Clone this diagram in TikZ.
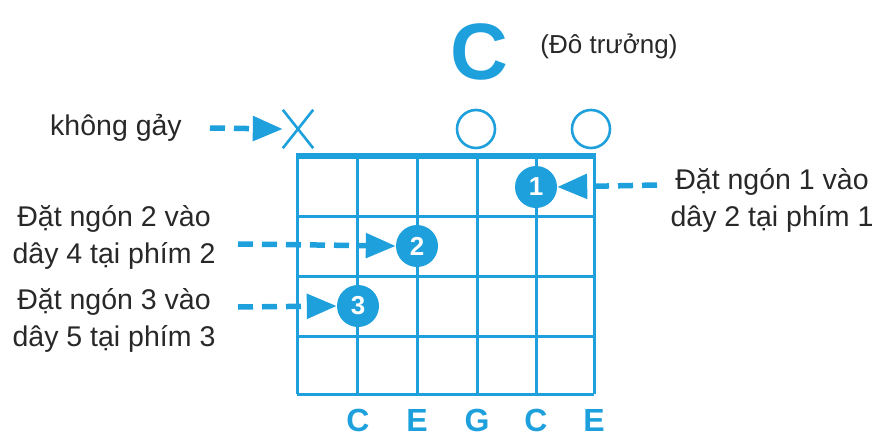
\documentclass[tikz,border=0pt]{standalone}
\usepackage{fontspec}
\setmainfont{Liberation Sans}
\usetikzlibrary{arrows.meta}
\definecolor{gblue}{RGB}{30,160,220}
\definecolor{gtext}{RGB}{40,40,40}
\begin{document}
\begin{tikzpicture}[x=1pt,y=-1pt,
  gridline/.style={draw=gblue,line width=3pt},
  finger/.style={circle,fill=gblue,minimum size=42pt,inner sep=0pt,text=white,font=\fontsize{26}{26}\selectfont\bfseries},
  openstr/.style={circle,draw=gblue,line width=2.6pt,minimum size=38pt,inner sep=0pt},
  lbl/.style={text=gtext,font=\fontsize{28.5}{37}\selectfont,align=center,inner sep=0pt},
  note/.style={text=gblue,font=\fontsize{32}{32}\selectfont\bfseries,inner sep=0pt},
  pointer/.style={draw=gblue,line width=5.5pt,dash pattern=on 15pt off 9pt,-{Triangle[length=30pt,width=24pt]}}
]
\useasboundingbox (0,0) rectangle (883,439);
% grid
\foreach \x in {297,357,417,477,536,594} \draw[gridline] (\x,156) -- (\x,394);
\foreach \y in {216,276,336,394} \draw[gridline] (297,\y) -- (594,\y);
\draw[draw=gblue,line width=6pt] (295.5,156) -- (595.5,156);
% title
\node[text=gblue,font=\fontsize{80}{80}\selectfont\bfseries,inner sep=0pt] (title) at (479,52) {C};
\node[text=gtext,font=\fontsize{26}{26}\selectfont,inner sep=0pt] (sub) at (609,46) {(Đô trưởng)};
% open / muted markers
\node[minimum width=30pt,minimum height=38pt,inner sep=0pt] (mute) at (298,129) {};
\draw[draw=gblue,line width=2.6pt] (mute.north west) -- (mute.south east) (mute.north east) -- (mute.south west);
\node[openstr] (o3) at (476,129) {};
\node[openstr] (o1) at (591,129) {};
% fingers
\node[finger] (f1) at (536,187) {1};
\node[finger] (f2) at (417,246) {2};
\node[finger] (f3) at (358,306) {3};
% labels
\node[lbl] (tk) at (116,128) {không gảy};
\node[lbl] (t1) at (772,200) {Đặt ngón 1 vào\\dây 2 tại phím 1};
\node[lbl] (t2) at (114,237) {Đặt ngón 2 vào\\dây 4 tại phím 2};
\node[lbl] (t3) at (114,320) {Đặt ngón 3 vào\\dây 5 tại phím 3};
% pointers
\coordinate (sk) at (210,128);
\coordinate (s1) at (657,185);
\coordinate (s2) at (238,244);
\coordinate (s3) at (238,307);
\draw[pointer] (sk) -- (mute.west);
\draw[pointer] (s1) -- (f1.east);
\draw[pointer] (s2) -- (f2.west);
\draw[pointer] (s3) -- (f3.west);
% note names
\node[note] (n5) at (358,420) {C};
\node[note] (n4) at (417,420) {E};
\node[note] (n3) at (477,420) {G};
\node[note] (n2) at (536,420) {C};
\node[note] (n1) at (594,420) {E};
\end{tikzpicture}
\end{document}
